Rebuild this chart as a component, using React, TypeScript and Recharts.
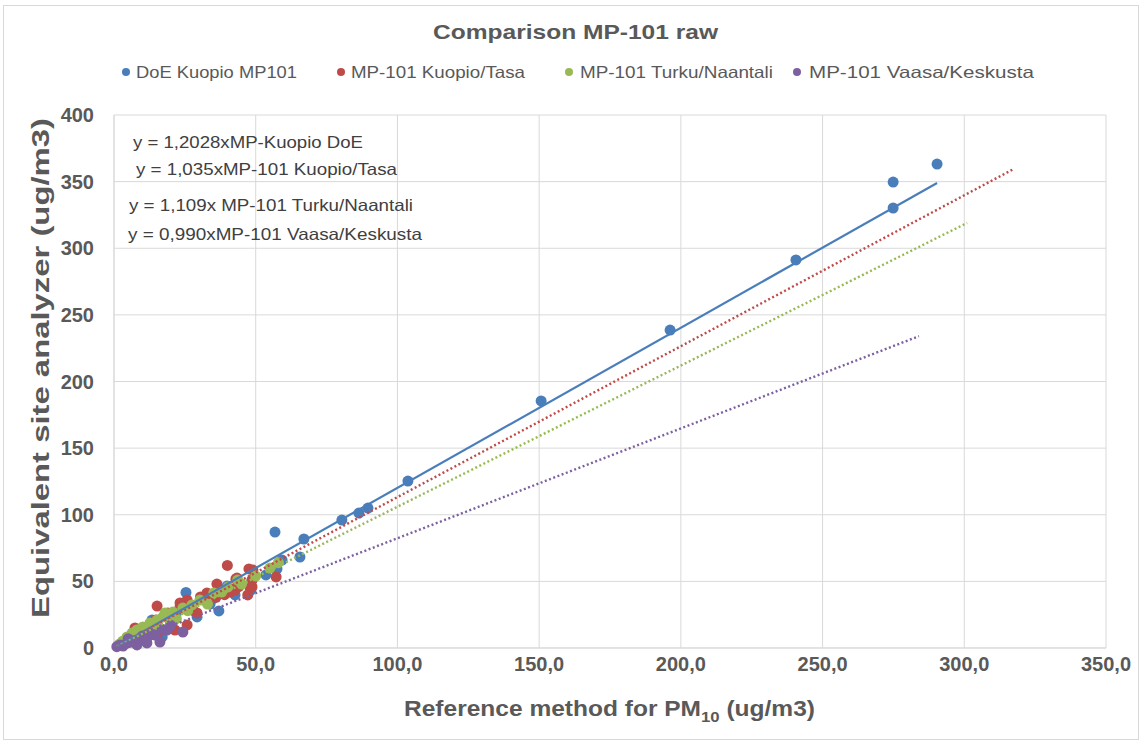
import { ScatterChart, Scatter, XAxis, YAxis, CartesianGrid, Label } from "recharts";

// Series values: [reference PM10, site analyzer]
const doeKuopio: number[][] = [
  [1.5, 1.8], [2.5, 3], [4, 4.5], [5.5, 6.5], [8, 9], [10, 12], [13.4, 21], [17, 8.3],
  [22, 26], [25.4, 41.7], [29.3, 23.3], [33.9, 33], [35, 37], [37, 27.8], [39.9, 46.5],
  [42.7, 39.8], [44, 48], [48.3, 43.5], [48.7, 51], [53.6, 54.8], [56.8, 60], [57.5, 59.3],
  [56.8, 87], [59.3, 66], [65.6, 68.3], [67, 81.8], [80.4, 96], [86.4, 101.3], [89.6, 105],
  [103.7, 125.3], [150.7, 185.4], [196.2, 238.6], [240.6, 291.2], [274.9, 330.2],
  [274.9, 349.7], [290.4, 363.2],
];
const kuopioTasa: number[][] = [
  [3, 3], [5, 4], [7.4, 15], [10, 8], [12, 14], [14.8, 21], [15.2, 31.5], [15.5, 11.3],
  [18.5, 23.3], [19, 26.3], [20, 19], [21.5, 13.5], [23.3, 30.8], [23.3, 33.8], [25.8, 17.3],
  [25.8, 30], [25.8, 36], [28, 28], [29.3, 26.3], [30.5, 38.3], [32.8, 41.3], [33, 35],
  [36, 38], [36.3, 48], [39, 40], [40, 62], [40.9, 42], [42.7, 43.5], [43, 51.8],
  [43.4, 52.5], [44, 46], [47.2, 39.8], [47.6, 59.3], [48, 45], [48.7, 45.8], [48.7, 51],
  [49, 58.5], [57.2, 53.3],
];
const turkuNaantali: number[][] = [
  [2, 3], [3, 5], [4.6, 8.3], [6.4, 11.3], [8.1, 13.5], [10.2, 15.8], [12.7, 18.8],
  [14, 16], [15.2, 21], [17.3, 23.3], [18, 26.3], [20.5, 21], [20.8, 27], [22, 22],
  [24.3, 30], [26, 28], [27.5, 32.3], [30.3, 36], [33, 33], [35.2, 41.3], [38, 42],
  [40.2, 45.8], [43.6, 51], [45, 48], [50, 54], [55, 60], [58, 64],
];
const vaasaKeskusta: number[][] = [
  [1, 1], [2.1, 2.3], [3.2, 1.5], [4.6, 3.8], [5, 7], [6.4, 4.5], [7, 5.5], [8.1, 2.3],
  [9.1, 6], [10, 9], [11.6, 3.8], [11.9, 8.3], [13, 11], [14.3, 9.8], [16.2, 4.5],
  [17, 14], [18.7, 13.5], [20, 17], [24.3, 12],
];

// Trendline end points as drawn
const doeTrend: number[][] = [[1, 1.2], [290.4, 349]];
const tasaTrend: number[][] = [[1, 1.1], [317, 359]];
const turkuTrend: number[][] = [[1, 1.1], [301, 319]];
const vaasaTrend: number[][] = [[1, 0.8], [284, 234]];

const xTicks = [0, 50, 100, 150, 200, 250, 300, 350];
const yTicks = [0, 50, 100, 150, 200, 250, 300, 350, 400];

const seriesNames = ["DoE Kuopio MP101", "MP-101 Kuopio/Tasa", "MP-101 Turku/Naantali", "MP-101 Vaasa/Keskusta"];
const colors = ["#4a7ebb", "#be4b48", "#98b954", "#7d60a0"];
const equations = [
  "y = 1,2028xMP-Kuopio DoE",
  "y = 1,035xMP-101 Kuopio/Tasa",
  "y = 1,109x MP-101 Turku/Naantali",
  "y = 0,990xMP-101 Vaasa/Keskusta",
];

const FONT = "'Liberation Sans', Arial, sans-serif";
const GREY = "#595959";

const toRows = (pts: number[][]) => pts.map(([x, y]) => ({ x, y }));

const dot = (color: string) => (props: any) => (
  <circle cx={props.cx} cy={props.cy} r={5.5} fill={color} />
);
const noDot = () => <g />;

export default function App() {
  const allSeries = [doeKuopio, kuopioTasa, turkuNaantali, vaasaKeskusta];
  const trends = [doeTrend, tasaTrend, turkuTrend, vaasaTrend];
  // legend marker x, text start, text width
  const legendPos = [
    [126, 136, 161],
    [341, 351, 174],
    [569, 580, 193],
    [797, 809, 225],
  ];
  // equation text x, baseline y, width
  const eqPos = [
    [133, 148, 230],
    [136, 175, 261],
    [129, 211, 284],
    [128, 240, 294],
  ];

  return (
    <div style={{ position: "absolute", left: 0, top: 0, width: 1143, height: 744, background: "#fff", fontFamily: FONT }}>
      <div style={{ position: "absolute", left: 3, top: 5, width: 1134, height: 733, border: "1px solid #d9d9d9" }} />
      <svg style={{ position: "absolute", left: 0, top: 0 }} width={1143} height={100}>
        <text x={433} y={39} textLength={285} lengthAdjust="spacingAndGlyphs" fontSize={21} fontWeight="bold" fill={GREY} fontFamily={FONT}>
          Comparison MP-101 raw
        </text>
        {seriesNames.map((n, i) => (
          <g key={n}>
            <circle cx={legendPos[i][0]} cy={72} r={4} fill={colors[i]} />
            <text
              x={legendPos[i][1]}
              y={78}
              textLength={legendPos[i][2]}
              lengthAdjust="spacingAndGlyphs"
              fontSize={16.5}
              fill={GREY}
              fontFamily={FONT}
            >
              {n}
            </text>
          </g>
        ))}
      </svg>
      <div style={{ position: "absolute", left: 0, top: 0 }}>
        <ScatterChart width={1143} height={744} margin={{ top: 115, right: 37, bottom: 0, left: 0 }}>
          <CartesianGrid stroke="#d9d9d9" strokeWidth={1} />
          <XAxis
            type="number"
            dataKey="x"
            domain={[0, 350]}
            ticks={xTicks}
            tickFormatter={(v: number) => v.toFixed(1).replace(".", ",")}
            tick={{ fill: GREY, fontSize: 20, fontWeight: "bold", fontFamily: FONT }}
            tickLine={false}
            tickSize={0}
            tickMargin={9}
            axisLine={{ stroke: "#d9d9d9" }}
            height={96}
          >
            <Label
              content={() => (
                <text x={404} y={716} textLength={411} lengthAdjust="spacingAndGlyphs" fontSize={22} fontWeight="bold" fill={GREY} fontFamily={FONT}>
                  Reference method for PM
                  <tspan fontSize={15} dy={6}>10</tspan>
                  <tspan dy={-6}> (ug/m3)</tspan>
                </text>
              )}
            />
          </XAxis>
          <YAxis
            type="number"
            dataKey="y"
            domain={[0, 400]}
            ticks={yTicks}
            tick={{ fill: GREY, fontSize: 20, fontWeight: "bold", fontFamily: FONT }}
            tickLine={false}
            tickSize={0}
            tickMargin={20}
            axisLine={{ stroke: "#d9d9d9" }}
            width={114}
          >
            <Label
              content={() => (
                <text
                  x={0}
                  y={0}
                  transform="translate(49 368) rotate(-90)"
                  textAnchor="middle"
                  textLength={500}
                  lengthAdjust="spacingAndGlyphs"
                  fontSize={23}
                  fontWeight="bold"
                  fill={GREY}
                  fontFamily={FONT}
                >
                  Equivalent site analyzer  (ug/m3)
                </text>
              )}
            />
          </YAxis>
          {allSeries.map((s, i) => (
            <Scatter key={"s" + i} data={toRows(s)} fill={colors[i]} shape={dot(colors[i])} isAnimationActive={false} />
          ))}
          {trends.map((t, i) => (
            <Scatter
              key={"t" + i}
              data={toRows(t)}
              shape={noDot}
              line={
                i === 0
                  ? { stroke: colors[i], strokeWidth: 2.2 }
                  : { stroke: colors[i], strokeWidth: 2.4, strokeDasharray: "2 2.5" }
              }
              isAnimationActive={false}
            />
          ))}
        </ScatterChart>
      </div>
      <svg style={{ position: "absolute", left: 0, top: 0, pointerEvents: "none" }} width={1143} height={300}>
        {equations.map((e, i) => (
          <text
            key={e}
            x={eqPos[i][0]}
            y={eqPos[i][1]}
            textLength={eqPos[i][2]}
            lengthAdjust="spacingAndGlyphs"
            fontSize={16.5}
            fill="#404040"
            fontFamily={FONT}
          >
            {e}
          </text>
        ))}
      </svg>
    </div>
  );
}
